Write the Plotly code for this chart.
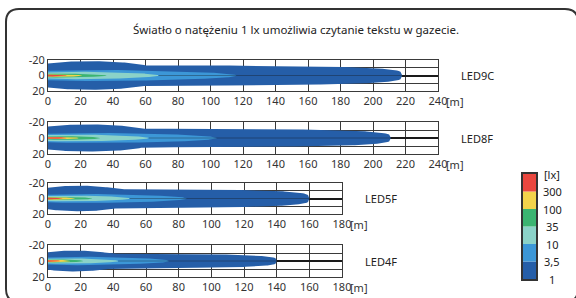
import numpy as np
import plotly.graph_objects as go

title_text = "Światło o natężeniu 1 lx umożliwia czytanie tekstu w gazecie."
lamps = ["LED9C", "LED8F", "LED5F", "LED4F"]
axis_max = [240, 240, 180, 180]
levels = [1, 3.5, 10, 35, 100, 300]
level_labels = ["1", "3,5", "10", "35", "100", "300"]
unit_label = "[lx]"
level_colors = ["#255ea8", "#3c97d7", "#8bd2c8", "#3bb471", "#f3d34b", "#e9473f"]

# reach of each illuminance level along the beam axis [m]
reach_LED9C = [218, 116, 68, 36, 21, 11.5]
reach_LED8F = [211, 104, 62, 32, 19, 11.5]
reach_LED5F = [160, 85, 50, 27, 16.5, 9]
reach_LED4F = [140, 74, 43, 21.5, 13.5, 7.5]

# half-width of each level (far band for 1 lx) [m]
width_LED9C = [13, 7.5, 5, 2.7, 1.8, 1.3]
width_LED8F = [11.5, 6.8, 4.5, 2.5, 1.7, 1.2]
width_LED5F = [12, 6.2, 4, 2.3, 1.6, 1.1]
width_LED4F = [9, 5.5, 3.5, 2, 1.5, 1]

# half-width of the 1 lx near-field lobe [m]
near_width = [18.5, 17, 16.5, 13]

reaches = [reach_LED9C, reach_LED8F, reach_LED5F, reach_LED4F]
widths = [width_LED9C, width_LED8F, width_LED5F, width_LED4F]

W, H = 576, 298
# panel pixel boxes (left, right, top, bottom)
panel_px = [(48, 438, 60, 91), (48, 438, 122, 154), (48, 342, 183, 214), (48, 342, 245, 277)]


def px_x(p):
    return p / W


def px_y(p):
    return 1 - p / H


def outline(L, Wd, idx, Wn):
    x = np.linspace(0, L, 200)
    if idx == 0:
        band = Wd * np.clip(1 - (x / L) ** 4, 0, None) ** 0.25
        c, a = 0.12 * L, 0.22 * L
        lobe = Wn * np.sqrt(np.clip(1 - ((x - c) / a) ** 2, 0, None))
        w = np.maximum(band, lobe)
    else:
        w = Wd * np.sqrt(np.clip(1 - (x / L) ** 2, 0, None)) * (0.8 + 0.2 * np.minimum(1, x / (0.25 * L)))
    xs = np.concatenate([x, x[::-1]])
    ys = np.concatenate([-w, w[::-1]])
    return xs, ys


fig = go.Figure()
tick_font = dict(family="Noto Sans", size=11, color="#333")
label_font = dict(family="Noto Sans", size=11, color="#222")
annotations = []

for i, lamp in enumerate(lamps):
    n = i + 1
    xa = "x" if n == 1 else f"x{n}"
    ya = "y" if n == 1 else f"y{n}"
    for k in range(len(levels)):
        xs, ys = outline(reaches[i][k], widths[i][k], k, near_width[i])
        fig.add_trace(go.Scatter(x=xs, y=ys, fill="toself", fillcolor=level_colors[k],
                                 line=dict(width=0), mode="lines", hoverinfo="skip",
                                 showlegend=False, xaxis=xa, yaxis=ya))
    fig.add_trace(go.Scatter(x=[reaches[i][2], reaches[i][0]], y=[0, 0], mode="lines",
                             line=dict(color="rgba(20,20,20,0.35)", width=1),
                             hoverinfo="skip", showlegend=False, xaxis=xa, yaxis=ya))
    l, r, t, b = panel_px[i]
    key_x = "xaxis" if n == 1 else f"xaxis{n}"
    key_y = "yaxis" if n == 1 else f"yaxis{n}"
    fig.layout[key_x] = dict(domain=[px_x(l), px_x(r)], anchor=ya, range=[0, axis_max[i]],
                             tickvals=list(range(0, axis_max[i] + 1, 20)), automargin=False,
                             showgrid=True, gridcolor="#3a3a3a", gridwidth=1,
                             showline=True, mirror=True, linecolor="#3a3a3a", linewidth=1,
                             zeroline=False, ticks="", tickfont=tick_font, fixedrange=True)
    fig.layout[key_y] = dict(domain=[px_y(b), px_y(t)], anchor=xa, range=[20, -20],
                             tickvals=[-20, -10, 0, 10, 20], ticktext=["-20", "", "0", "", "20"],
                             showgrid=True, gridcolor="#3a3a3a", gridwidth=1, automargin=False,
                             zeroline=True, zerolinecolor="#1a1a1a", zerolinewidth=1.5,
                             showline=True, mirror=True, linecolor="#3a3a3a", linewidth=1,
                             ticks="", tickfont=tick_font, fixedrange=True)
    annotations.append(dict(text=lamp, xref=f"{xa} domain", x=1, xshift=21, xanchor="left",
                            yref=ya, y=0, yanchor="middle", showarrow=False, font=label_font))
    annotations.append(dict(text="[m]", xref=f"{xa} domain", x=1, xshift=6, xanchor="left",
                            yref=f"{ya} domain", y=0, yshift=-1, yanchor="top",
                            showarrow=False, font=tick_font))

# colour scale legend as a stacked bar on its own axes
fig.add_trace(go.Bar(x=[0] * len(levels), y=[1] * len(levels), base=list(range(len(levels))),
                     width=1, marker=dict(color=level_colors, line=dict(width=0)),
                     hoverinfo="skip", showlegend=False, xaxis="x5", yaxis="y5"))
fig.layout["xaxis5"] = dict(domain=[px_x(523), px_x(536)], anchor="y5", range=[-0.5, 0.5],
                            showticklabels=False, showgrid=False, zeroline=False, automargin=False,
                            showline=True, mirror=True, linecolor="#333", linewidth=1.5, fixedrange=True)
fig.layout["yaxis5"] = dict(domain=[px_y(279), px_y(174)], anchor="x5", range=[0, len(levels)],
                            showticklabels=False, showgrid=False, zeroline=False, automargin=False,
                            showline=True, mirror=True, linecolor="#333", linewidth=1.5, fixedrange=True)
for k, lab in enumerate(level_labels + [unit_label]):
    annotations.append(dict(text=lab, xref="x5 domain", x=1, xshift=16, xanchor="center",
                            yref="y5", y=k, yanchor="middle", showarrow=False, font=label_font))

annotations.append(dict(text=title_text, xref="paper", x=px_x(296), yref="paper", y=px_y(29),
                        xanchor="center", yanchor="middle", showarrow=False,
                        font=dict(family="Noto Sans", size=11.5, color="#222")))

# rounded outer frame
x0, x1, y0, y1, rr = 6, 578, 9, 302, 13
pts = lambda a, b: f"{px_x(a):.5f},{px_y(b):.5f}"
path = (f"M {pts(x0 + rr, y0)} L {pts(x1 - rr, y0)} Q {pts(x1, y0)} {pts(x1, y0 + rr)} "
        f"L {pts(x1, y1 - rr)} Q {pts(x1, y1)} {pts(x1 - rr, y1)} "
        f"L {pts(x0 + rr, y1)} Q {pts(x0, y1)} {pts(x0, y1 - rr)} "
        f"L {pts(x0, y0 + rr)} Q {pts(x0, y0)} {pts(x0 + rr, y0)} Z")

fig.update_layout(width=W, height=H, margin=dict(l=0, r=0, t=0, b=0, autoexpand=False),
                  paper_bgcolor="white", plot_bgcolor="white", showlegend=False,
                  annotations=annotations,
                  shapes=[dict(type="path", path=path, xref="paper", yref="paper",
                               line=dict(color="#333", width=2), layer="above")])

pin_js = ("document.body.style.margin='0';"
          "var gd=document.getElementById('{plot_id}');"
          "gd.style.position='absolute';gd.style.left='0px';gd.style.top='0px';")
fig.write_html("out.html", post_script=pin_js, config={"displayModeBar": False})
